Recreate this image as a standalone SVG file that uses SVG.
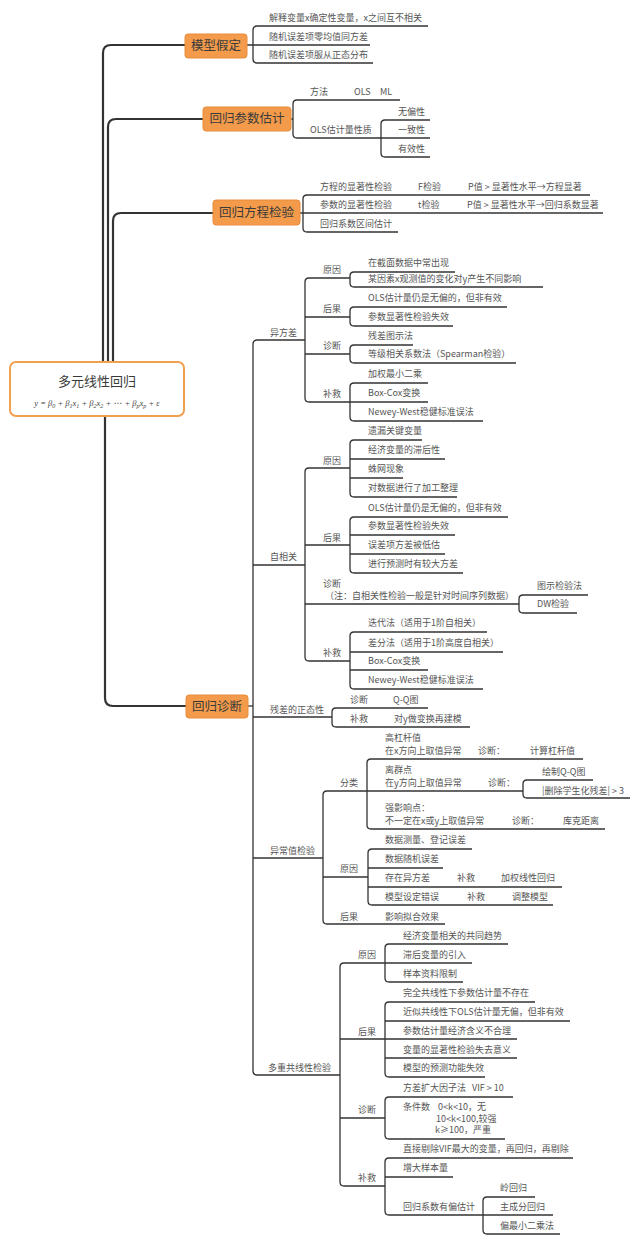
<svg xmlns="http://www.w3.org/2000/svg" width="640" height="1244" viewBox="0 0 640 1244">
<style>
.l{fill:none;stroke:#333;stroke-width:1.3}
.sp{fill:none;stroke:#333;stroke-width:2.2}
.t{font-family:"Noto Sans CJK SC","Noto Sans",sans-serif;font-size:9px;fill:#555}
.h{font-family:"Noto Sans CJK SC","Noto Sans",sans-serif;font-size:12.5px;fill:#3a3a3a;text-anchor:middle}
.ob{fill:#F39B4A;stroke:#E98C3A;stroke-width:1}
.f{font-family:"Liberation Serif",serif;font-style:italic;font-size:8.5px;fill:#444}
</style>
<rect width="640" height="1244" fill="#fff"/>
<g id="connectors">
<path class="sp" d="M103,362 V53 Q103,45 111,45 H185"/>
<path class="sp" d="M108,362 V127 Q108,119 116,119 H203"/>
<path class="sp" d="M113,362 V221 Q113,213 121,213 H213"/>
<path class="sp" d="M105,416 V698 Q105,706 113,706 H186"/>
<path class="l" d="M247,45 H253 M253,45 H370"/>
<path class="l" d="M428,26 H257 Q253,26 253,30 V59 Q253,63 257,63 H373"/>
<path class="l" d="M291,119 H293"/>
<path class="l" d="M400,100 H297 Q293,100 293,104 V134 Q293,138 297,138 H381"/>
<path class="l" d="M430,120 H385 Q381,120 381,124 V153 Q381,157 385,157 H430"/>
<path class="l" d="M381,138 H430"/>
<path class="l" d="M300,213 H603"/>
<path class="l" d="M590,195 H307 Q303,195 303,199 V228 Q303,232 307,232 H398"/>
<path class="l" d="M248,706 H253"/>
<path class="l" d="M305,340 H257 Q253,340 253,344 V1071 Q253,1075 257,1075 H340"/>
<path class="l" d="M253,565 H305 M253,717 H332 M253,858 H323"/>
<path class="l" d="M350,278 H309 Q305,278 305,282 V398 Q305,402 309,402 H350"/>
<path class="l" d="M305,317 H350 M305,354 H350"/>
<path class="l" d="M455,272 H354 Q350,272 350,276 V283 Q350,287 354,287 H543"/>
<path class="l" d="M507,307 H354 Q350,307 350,311 V322 Q350,326 354,326 H453"/>
<path class="l" d="M413,345 H354 Q350,345 350,349 V359 Q350,363 354,363 H516"/>
<path class="l" d="M428,383 H354 Q350,383 350,387 V417 Q350,421 354,421 H483"/>
<path class="l" d="M350,402 H428"/>
<path class="l" d="M350,468 H309 Q305,468 305,472 V657 Q305,661 309,661 H350"/>
<path class="l" d="M305,545 H350 M305,604 H519"/>
<path class="l" d="M422,440 H354 Q350,440 350,444 V493 Q350,497 354,497 H457"/>
<path class="l" d="M350,459 H445 M350,478 H403"/>
<path class="l" d="M508,517 H354 Q350,517 350,521 V569 Q350,573 354,573 H463"/>
<path class="l" d="M350,535 H455 M350,554 H445"/>
<path class="l" d="M588,595 H523 Q519,595 519,599 V609 Q519,613 523,613 H577"/>
<path class="l" d="M487,632 H354 Q350,632 350,636 V685 Q350,689 354,689 H483"/>
<path class="l" d="M350,652 H503 M350,670 H428"/>
<path class="l" d="M428,708 H336 Q332,708 332,712 V723 Q332,727 336,727 H470"/>
<path class="l" d="M367,791 H327 Q323,791 323,795 V920 Q323,924 327,924 H445"/>
<path class="l" d="M323,877 H368"/>
<path class="l" d="M583,759 H371 Q367,759 367,763 V825 Q367,829 371,829 H605"/>
<path class="l" d="M367,791 H523"/>
<path class="l" d="M593,780 H527 Q523,780 523,784 V794 Q523,798 527,798 H630"/>
<path class="l" d="M472,849 H372 Q368,849 368,853 V901 Q368,905 372,905 H553"/>
<path class="l" d="M368,868 H443 M368,887 H562"/>
<path class="l" d="M385,963 H344 Q340,963 340,967 V1182 Q340,1186 344,1186 H385"/>
<path class="l" d="M340,1039 H385 M340,1118 H385"/>
<path class="l" d="M508,944 H389 Q385,944 385,948 V978 Q385,982 389,982 H463"/>
<path class="l" d="M385,963 H472"/>
<path class="l" d="M535,1002 H389 Q385,1002 385,1006 V1073 Q385,1077 389,1077 H485"/>
<path class="l" d="M385,1021 H570 M385,1039 H517 M385,1058 H517"/>
<path class="l" d="M513,1097 H389 Q385,1097 385,1101 V1135 Q385,1139 389,1139 H505"/>
<path class="l" d="M573,1158 H389 Q385,1158 385,1162 V1211 Q385,1215 389,1215 H483"/>
<path class="l" d="M385,1177 H453"/>
<path class="l" d="M535,1197 H487 Q483,1197 483,1201 V1230 Q483,1234 487,1234 H560"/>
<path class="l" d="M483,1215 H553"/>
</g>
<g id="root">
<rect x="10" y="362" width="174" height="54" rx="6" fill="#fff" stroke="#F0A050" stroke-width="2"/>
<text class="h" x="97" y="386" style="font-size:13px">多元线性回归</text>
<text class="f" x="97" y="406" text-anchor="middle">y = β<tspan dy="2" font-size="6">0</tspan><tspan dy="-2"> + β</tspan><tspan dy="2" font-size="6">1</tspan><tspan dy="-2">x</tspan><tspan dy="2" font-size="6">1</tspan><tspan dy="-2"> + β</tspan><tspan dy="2" font-size="6">2</tspan><tspan dy="-2">x</tspan><tspan dy="2" font-size="6">2</tspan><tspan dy="-2"> + ⋯   + β</tspan><tspan dy="2" font-size="6">p</tspan><tspan dy="-2">x</tspan><tspan dy="2" font-size="6">p</tspan><tspan dy="-2"> + ε</tspan></text>
</g>
<g id="n-model">
<rect class="ob" x="185" y="34" width="62" height="24" rx="3"/>
<text class="h" x="216" y="50">模型假定</text>
<text class="t" x="269" y="21">解释变量x确定性变量，x之间互不相关</text>
<text class="t" x="269" y="40">随机误差项零均值同方差</text>
<text class="t" x="269" y="58">随机误差项服从正态分布</text>
</g>
<g id="n-est">
<rect class="ob" x="203" y="107" width="88" height="24" rx="3"/>
<text class="h" x="247" y="123">回归参数估计</text>
<text class="t" x="310" y="95">方法</text>
<text class="t" x="354" y="95">OLS</text>
<text class="t" x="380" y="95">ML</text>
<text class="t" x="310" y="133">OLS估计量性质</text>
<text class="t" x="398" y="115">无偏性</text>
<text class="t" x="398" y="133">一致性</text>
<text class="t" x="398" y="152">有效性</text>
</g>
<g id="n-test">
<rect class="ob" x="213" y="200" width="87" height="25" rx="3"/>
<text class="h" x="256.5" y="217">回归方程检验</text>
<text class="t" x="320" y="190">方程的显著性检验</text>
<text class="t" x="418" y="190">F检验</text>
<text class="t" x="468" y="190">P值 &gt; 显著性水平→方程显著</text>
<text class="t" x="320" y="208">参数的显著性检验</text>
<text class="t" x="418" y="208">t检验</text>
<text class="t" x="467" y="208">P值 &gt; 显著性水平→回归系数显著</text>
<text class="t" x="320" y="227">回归系数区间估计</text>
</g>
<g id="n-diag">
<rect class="ob" x="186" y="695" width="62" height="23" rx="3"/>
<text class="h" x="217" y="711">回归诊断</text>
</g>
<g id="n-hetero">
<text class="t" x="270" y="336">异方差</text>
<text class="t" x="323" y="273">原因</text>
<text class="t" x="368" y="266">在截面数据中常出现</text>
<text class="t" x="368" y="282">某因素x观测值的变化对y产生不同影响</text>
<text class="t" x="323" y="312">后果</text>
<text class="t" x="368" y="301">OLS估计量仍是无偏的，但非有效</text>
<text class="t" x="368" y="320">参数显著性检验失效</text>
<text class="t" x="323" y="349">诊断</text>
<text class="t" x="368" y="339">残差图示法</text>
<text class="t" x="368" y="357">等级相关系数法（Spearman检验）</text>
<text class="t" x="323" y="397">补救</text>
<text class="t" x="368" y="377">加权最小二乘</text>
<text class="t" x="368" y="396">Box-Cox变换</text>
<text class="t" x="368" y="415">Newey-West稳健标准误法</text>
</g>
<g id="n-auto">
<text class="t" x="270" y="560">自相关</text>
<text class="t" x="323" y="464">原因</text>
<text class="t" x="368" y="434">遗漏关键变量</text>
<text class="t" x="368" y="453">经济变量的滞后性</text>
<text class="t" x="368" y="472">蛛网现象</text>
<text class="t" x="368" y="491">对数据进行了加工整理</text>
<text class="t" x="323" y="541">后果</text>
<text class="t" x="368" y="511">OLS估计量仍是无偏的，但非有效</text>
<text class="t" x="368" y="529">参数显著性检验失效</text>
<text class="t" x="368" y="548">误差项方差被低估</text>
<text class="t" x="368" y="567">进行预测时有较大方差</text>
<text class="t" x="323" y="587">诊断</text>
<text class="t" x="325" y="599">（注：自相关性检验一般是针对时间序列数据）</text>
<text class="t" x="537" y="589">图示检验法</text>
<text class="t" x="537" y="607">DW检验</text>
<text class="t" x="323" y="656">补救</text>
<text class="t" x="368" y="626">迭代法（适用于1阶自相关）</text>
<text class="t" x="368" y="646">差分法（适用于1阶高度自相关）</text>
<text class="t" x="368" y="664">Box-Cox变换</text>
<text class="t" x="368" y="683">Newey-West稳健标准误法</text>
</g>
<g id="n-normal">
<text class="t" x="270" y="713">残差的正态性</text>
<text class="t" x="350" y="703">诊断</text>
<text class="t" x="393" y="703">Q-Q图</text>
<text class="t" x="350" y="722">补救</text>
<text class="t" x="394" y="722">对y做变换再建模</text>
</g>
<g id="n-outlier">
<text class="t" x="270" y="854">异常值检验</text>
<text class="t" x="340" y="786">分类</text>
<text class="t" x="385" y="741">高杠杆值</text>
<text class="t" x="385" y="754">在x方向上取值异常</text>
<text class="t" x="478" y="754">诊断：</text>
<text class="t" x="530" y="754">计算杠杆值</text>
<text class="t" x="385" y="773">离群点</text>
<text class="t" x="385" y="786">在y方向上取值异常</text>
<text class="t" x="488" y="786">诊断：</text>
<text class="t" x="542" y="775">绘制Q-Q图</text>
<text class="t" x="542" y="794">|删除学生化残差| &gt; 3</text>
<text class="t" x="385" y="811">强影响点：</text>
<text class="t" x="385" y="824">不一定在x或y上取值异常</text>
<text class="t" x="512" y="824">诊断：</text>
<text class="t" x="563" y="824">库克距离</text>
<text class="t" x="340" y="872">原因</text>
<text class="t" x="385" y="843">数据测量、登记误差</text>
<text class="t" x="385" y="862">数据随机误差</text>
<text class="t" x="385" y="881">存在异方差</text>
<text class="t" x="457" y="881">补救</text>
<text class="t" x="501" y="881">加权线性回归</text>
<text class="t" x="385" y="900">模型设定错误</text>
<text class="t" x="467" y="900">补救</text>
<text class="t" x="512" y="900">调整模型</text>
<text class="t" x="340" y="920">后果</text>
<text class="t" x="385" y="920">影响拟合效果</text>
</g>
<g id="n-multi">
<text class="t" x="268" y="1071">多重共线性检验</text>
<text class="t" x="358" y="958">原因</text>
<text class="t" x="403" y="939">经济变量相关的共同趋势</text>
<text class="t" x="403" y="958">滞后变量的引入</text>
<text class="t" x="403" y="977">样本资料限制</text>
<text class="t" x="358" y="1035">后果</text>
<text class="t" x="403" y="996">完全共线性下参数估计量不存在</text>
<text class="t" x="403" y="1015">近似共线性下OLS估计量无偏，但非有效</text>
<text class="t" x="403" y="1034">参数估计量经济含义不合理</text>
<text class="t" x="403" y="1053">变量的显著性检验失去意义</text>
<text class="t" x="403" y="1071">模型的预测功能失效</text>
<text class="t" x="358" y="1113">诊断</text>
<text class="t" x="403" y="1091">方差扩大因子法</text>
<text class="t" x="472" y="1091">VIF &gt; 10</text>
<text class="t" x="403" y="1110">条件数</text>
<text class="t" x="438" y="1110">0&lt;k&lt;10，无</text>
<text class="t" x="436" y="1122">10&lt;k&lt;100,较强</text>
<text class="t" x="435" y="1133">k≥100，严重</text>
<text class="t" x="358" y="1181">补救</text>
<text class="t" x="403" y="1152">直接剔除VIF最大的变量，再回归，再剔除</text>
<text class="t" x="403" y="1171">增大样本量</text>
<text class="t" x="403" y="1210">回归系数有偏估计</text>
<text class="t" x="500" y="1191">岭回归</text>
<text class="t" x="500" y="1210">主成分回归</text>
<text class="t" x="500" y="1229">偏最小二乘法</text>
</g>
</svg>
